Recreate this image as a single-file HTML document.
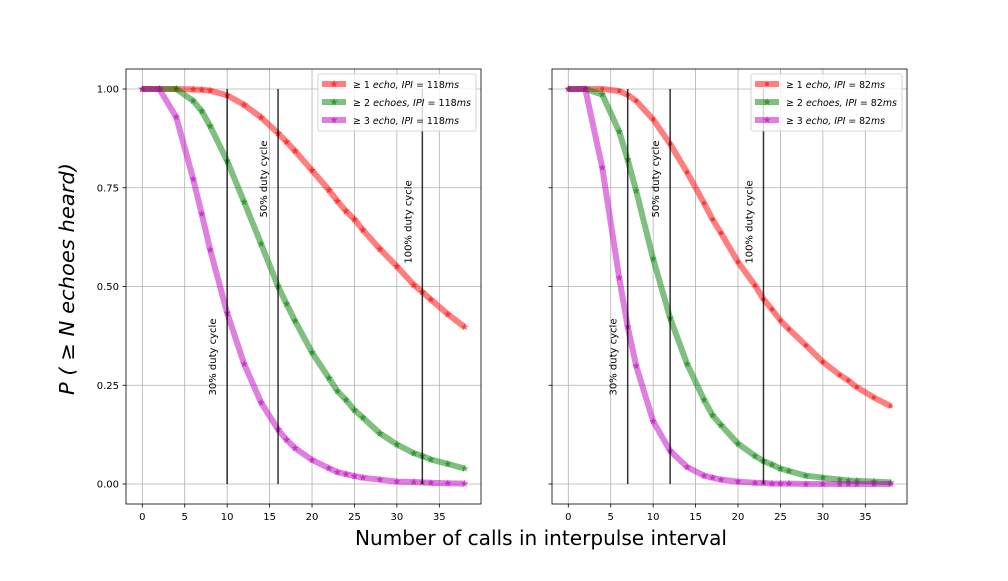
<!DOCTYPE html>
<html><head><meta charset="utf-8"><style>
html,body{margin:0;padding:0;background:#fff;}
svg text{font-family:"DejaVu Sans","Liberation Sans",sans-serif;}
</style></head><body>
<svg id="chart" width="1008" height="576" viewBox="0 0 1008 576" xmlns="http://www.w3.org/2000/svg">
<rect width="1008" height="576" fill="#fff"/>
<text x="0" y="0" transform="translate(74,279) rotate(-90)" text-anchor="middle" font-size="20.5" font-style="italic" textLength="232" lengthAdjust="spacingAndGlyphs">P ( ≥ N echoes heard)</text>
<text x="541" y="545" text-anchor="middle" font-size="20" textLength="372" lengthAdjust="spacingAndGlyphs">Number of calls in interpulse interval</text>
</svg>
<script>
const xs = [0,2,4,6,7,8,10,12,14,16,17,18,20,22,23,24,25,26,28,30,32,33,34,36,38];
const leftRed = [1,1,1,0.999,0.998,0.996,0.984,0.96,0.928,0.888,0.866,0.843,0.794,0.744,0.716,0.691,0.670,0.643,0.595,0.551,0.504,0.486,0.467,0.430,0.397];
const leftGreen = [1,1,1,0.970,0.944,0.906,0.818,0.714,0.608,0.500,0.456,0.413,0.333,0.268,0.235,0.213,0.187,0.168,0.128,0.100,0.078,0.071,0.062,0.051,0.039];
const leftMag = [1,1,0.929,0.772,0.684,0.593,0.433,0.304,0.206,0.138,0.112,0.091,0.061,0.040,0.030,0.025,0.020,0.016,0.011,0.006,0.005,0.004,0.003,0.002,0.001];
const rightRed = [1,1,1,0.995,0.985,0.970,0.923,0.861,0.789,0.711,0.670,0.635,0.562,0.503,0.468,0.442,0.414,0.392,0.351,0.309,0.276,0.262,0.245,0.219,0.197];
const rightGreen = [1,1,0.986,0.892,0.821,0.742,0.570,0.420,0.304,0.213,0.174,0.149,0.102,0.071,0.058,0.049,0.039,0.033,0.021,0.016,0.011,0.009,0.008,0.006,0.004];
const rightMag = [1,1,0.801,0.522,0.398,0.299,0.159,0.084,0.043,0.021,0.016,0.011,0.006,0.003,0.003,0.001,0.001,0.001,0,0,0,0,0,0,0];
const leftDuty = [10,16,33];
const rightDuty = [7,12,23];
const dutyLabels = ["30% duty cycle","50% duty cycle","100% duty cycle"];
const xTicks = [0,5,10,15,20,25,30,35];
const yTicks = [0,0.25,0.5,0.75,1.0];
const yTickLabels = ["0.00","0.25","0.50","0.75","1.00"];
const leftLegend = ["118ms","118ms","118ms"];
const rightLegend = ["82ms","82ms","82ms"];

const NS="http://www.w3.org/2000/svg";
const svg=document.getElementById('chart');
function mk(tag,attrs,parent){const e=document.createElementNS(NS,tag);for(const k in attrs)e.setAttribute(k,attrs[k]);(parent||svg).appendChild(e);return e;}
function star(cx,cy,r){let p=[];for(let i=0;i<10;i++){const a=-Math.PI/2+i*Math.PI/5;const rr=i%2?r*0.4:r;p.push((cx+rr*Math.cos(a)).toFixed(1)+','+(cy+rr*Math.sin(a)).toFixed(1));}return p.join(' ');}

function panel(name,left,right,x0,series,duty,legendVals,showY,dotFirst){
  const sx=v=>x0+v*8.486;
  const sy=v=>484-v*395;
  const g=mk('g',{});
  
  
  xTicks.forEach(t=>{const l=mk('line',{x1:sx(t),x2:sx(t),y1:69,y2:504,stroke:'#b0b0b0','stroke-width':0.8},g);
    
    mk('line',{x1:sx(t),x2:sx(t),y1:504,y2:507.5,stroke:'#000','stroke-width':0.8},g);
    const tx=mk('text',{x:sx(t),y:520,'text-anchor':'middle','font-size':10},g);tx.textContent=t;
    });
  yTicks.forEach((t,i)=>{const l=mk('line',{x1:left,x2:right,y1:sy(t),y2:sy(t),stroke:'#b0b0b0','stroke-width':0.8},g);
    
    mk('line',{x1:left-3.5,x2:left,y1:sy(t),y2:sy(t),stroke:'#000','stroke-width':0.8},g);
    if(showY){const tx=mk('text',{x:left-7,y:sy(t)+3.5,'text-anchor':'end','font-size':10},g);tx.textContent=yTickLabels[i];
      }});
  series.forEach((s,si)=>{
    const pts=xs.map((x,i)=>sx(x)+','+sy(s.v[i])).join(' ');
    const pl=mk('polyline',{points:pts,fill:'none',stroke:s.c,'stroke-opacity':0.5,'stroke-width':6,'stroke-linejoin':'round'},g);
    
    xs.forEach((x,i)=>{let m;
      if(dotFirst&&si===0){m=mk('circle',{cx:sx(x),cy:sy(s.v[i]),r:2,fill:s.c,'fill-opacity':0.6},g);}
      else{m=mk('polygon',{points:star(sx(x),sy(s.v[i]),4),fill:s.c,'fill-opacity':0.6},g);}
      });
  });
  const lblY=[357,179,222];
  duty.forEach((d,i)=>{const l=mk('line',{x1:sx(d),x2:sx(d),y1:sy(0),y2:sy(1),stroke:'#000','stroke-width':1.5,'stroke-opacity':0.8},g);
    
    const tx=mk('text',{x:0,y:0,transform:`translate(${sx(d)-11},${lblY[i]}) rotate(-90)`,'text-anchor':'middle','font-size':10},g);
    tx.textContent=dutyLabels[i];});
  const fr=mk('rect',{x:left,y:69,width:right-left,height:435,fill:'none',stroke:'#000','stroke-width':0.8},g);
  
  const big=legendVals[0].length>4;
  const lw=big?158:151;
  const lens=big?[106,118,106]:[99,111,99];
  const lx=right-5-lw;
  const lg=mk('g',{},g);
  
  mk('rect',{x:lx,y:74,width:lw,height:57,rx:2,fill:'#fff','fill-opacity':0.8,stroke:'#ccc','stroke-width':0.8},lg);
  const names=['≥ 1 ','≥ 2 ','≥ 3 '];const words=['echo','echoes','echo'];
  series.forEach((s,i)=>{const y=84+i*18;
    mk('line',{x1:lx+4,x2:lx+28,y1:y,y2:y,stroke:s.c,'stroke-opacity':0.5,'stroke-width':6},lg);
    if(dotFirst&&i===0)mk('circle',{cx:lx+16,cy:y,r:2,fill:s.c,'fill-opacity':0.6},lg);
    else mk('polygon',{points:star(lx+16,y,4),fill:s.c,'fill-opacity':0.6},lg);
    const tx=mk('text',{x:lx+35,y:y+4,'font-size':10,textLength:lens[i],lengthAdjust:'spacingAndGlyphs'},lg);
    
    tx.innerHTML=names[i]+'<tspan font-style="italic">'+words[i]+', IPI</tspan> = '+legendVals[i].replace('ms','')+'<tspan font-style="italic">ms</tspan>';
  });
}
panel('left-panel',126,481,142.3,[{n:'red-118',c:'#ff0000',v:leftRed},{n:'green-118',c:'#008000',v:leftGreen},{n:'magenta-118',c:'#bf00bf',v:leftMag}],leftDuty,leftLegend,true,false);
panel('right-panel',552,907,568.3,[{n:'red-82',c:'#ff0000',v:rightRed},{n:'green-82',c:'#008000',v:rightGreen},{n:'magenta-82',c:'#bf00bf',v:rightMag}],rightDuty,rightLegend,false,true);
</script>
</body></html>
